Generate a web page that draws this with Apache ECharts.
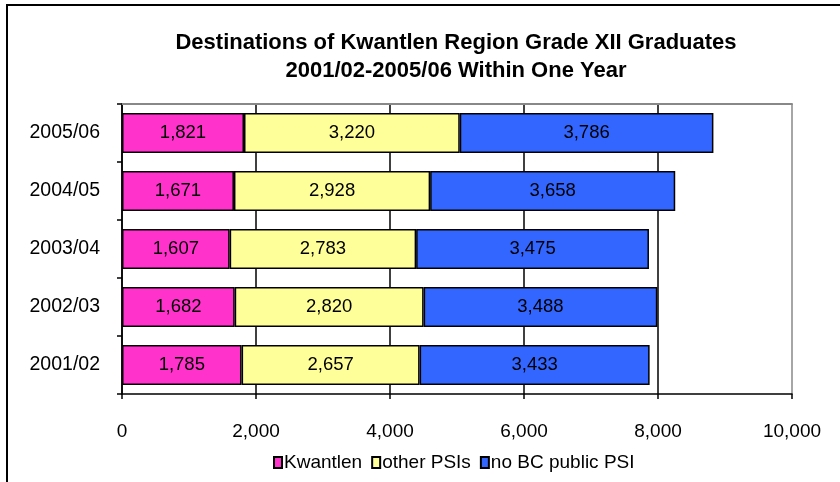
<!DOCTYPE html>
<html>
<head>
<meta charset="utf-8">
<script src="https://cdn.jsdelivr.net/npm/echarts@6/dist/echarts.min.js"></script>
<style>
  html, body { margin: 0; padding: 0; background: #fff; }
  #chart { width: 840px; height: 482px; }
</style>
</head>
<body>
<div id="chart"></div>
<script>
// chart data
let years = ['2001/02', '2002/03', '2003/04', '2004/05', '2005/06'];
let kwantlen = [1785, 1682, 1607, 1671, 1821];
let otherPSIs = [2657, 2820, 2783, 2928, 3220];
let noBCPublic = [3433, 3488, 3475, 3658, 3786];
let seriesNames = ['Kwantlen', 'other PSIs', 'no BC public PSI'];
let seriesColors = ['#FF33CC', '#FFFF99', '#3366FF'];

var dom = document.getElementById('chart');
var myChart = echarts.init(dom);
var fontName = 'Liberation Sans';

function fmt(v) {
    return v.toLocaleString('en-US');
}

function makeSeries(name, values, color) {
    return {
        name: name,
        type: 'bar',
        stack: 'total',
        data: values,
        barCategoryGap: '31%',
        itemStyle: { color: color, borderColor: '#000', borderWidth: 1.5 },
        label: {
            show: true,
            position: 'inside',
            color: '#000',
            fontFamily: fontName,
            fontSize: 18.5,
            formatter: p => fmt(p.value)
        }
    };
}

var option = {
    animation: false,
    backgroundColor: '#fff',
    title: {
        text: 'Destinations of Kwantlen Region Grade XII Graduates\n2001/02-2005/06 Within One Year',
        left: 451,
        top: 24,
        textAlign: 'center',
        textStyle: { fontFamily: fontName, fontSize: 22, fontWeight: 'bold', color: '#000', lineHeight: 28 }
    },
    legend: {
        bottom: 5,
        left: 268,
        icon: 'rect',
        itemWidth: 8,
        itemHeight: 11,
        itemGap: 9,
        textStyle: { fontFamily: fontName, fontSize: 19, color: '#000', padding: [0, 0, 0, -3] },
        data: seriesNames
    },
    grid: { left: 122, right: 48, top: 104, bottom: 88 },
    xAxis: [{
        type: 'value',
        min: 0,
        max: 10000,
        interval: 2000,
        axisLine: { show: true, lineStyle: { color: '#000', width: 1.5 } },
        axisTick: { show: true, length: 5, lineStyle: { color: '#000', width: 1.5 } },
        axisLabel: { margin: 28, fontFamily: fontName, fontSize: 19, color: '#000', formatter: v => fmt(v) },
        splitLine: { show: true, lineStyle: { color: ['#000', '#000', '#000', '#000', '#000', '#888'], width: 1.5 } }
    }, {
        type: 'value',
        position: 'top',
        min: 0,
        max: 10000,
        axisLine: { show: true, lineStyle: { color: '#888', width: 2 } },
        axisTick: { show: false },
        axisLabel: { show: false },
        splitLine: { show: false }
    }],
    yAxis: {
        type: 'category',
        data: years,
        axisLine: { show: true, lineStyle: { color: '#000', width: 1.5 } },
        axisTick: { show: true, length: 5, lineStyle: { color: '#000', width: 1.5 } },
        axisLabel: { margin: 22, fontFamily: fontName, fontSize: 19.5, color: '#000' }
    },
    graphic: [{
        type: 'rect',
        shape: { x: 7, y: 5, width: 900, height: 600 },
        style: { fill: 'none', stroke: '#000', lineWidth: 2 },
        silent: true
    }],
    series: [
        makeSeries(seriesNames[0], kwantlen, seriesColors[0]),
        makeSeries(seriesNames[1], otherPSIs, seriesColors[1]),
        makeSeries(seriesNames[2], noBCPublic, seriesColors[2])
    ]
};

if (option && typeof option === 'object') {
    myChart.setOption(option);
}
</script>
</body>
</html>
